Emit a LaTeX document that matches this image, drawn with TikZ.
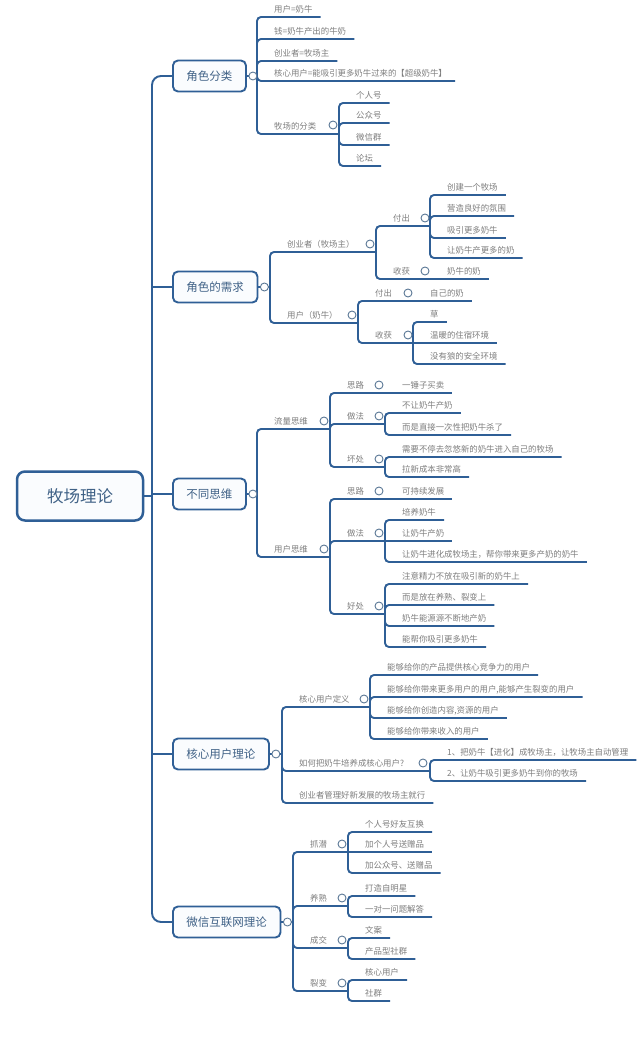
\documentclass[tikz,border=0pt]{standalone}
\usepackage{fontspec}
\newfontfamily\cjk{Noto Sans CJK SC}
\definecolor{lineblue}{HTML}{2F5F96}
\definecolor{leafgray}{HTML}{7E7E7E}
\definecolor{maintext}{HTML}{3F6186}
\definecolor{boxfill}{HTML}{FAFCFE}
\definecolor{togc}{HTML}{5B7896}
\begin{document}
\begin{tikzpicture}[x=1pt,y=-1pt,
  conn/.style={draw=lineblue,line width=1.9pt,rounded corners=4pt},
  leaf/.style={font=\cjk\fontsize{8.4pt}{10pt}\selectfont,text=leafgray,anchor=south west,inner xsep=8pt,inner ysep=4.5pt,text height=6.8pt,text depth=0pt},
  tog/.style={circle,draw=togc,fill=white,line width=0.9pt,minimum size=8pt,inner sep=0pt},
  mainbox/.style={draw=lineblue,line width=1.9pt,rounded corners=5pt,fill=boxfill,text=maintext,font=\cjk\fontsize{11.5pt}{14pt}\selectfont,minimum height=31pt,inner xsep=13.5pt,anchor=west},
  rootbox/.style={draw=lineblue,line width=2.5pt,rounded corners=8pt,fill=boxfill,text=maintext,font=\cjk\fontsize{16.5pt}{20pt}\selectfont,minimum width=126pt,minimum height=49pt}
]
\fill[white] (0,0) rectangle (640,1048);
\useasboundingbox (0,0) rectangle (640,1048);

% root and main branches
\node[rootbox] (root) at (80,496) {牧场理论};
\node[mainbox] (b1) at (172,76) {角色分类};
\node[mainbox] (b2) at (172,287) {角色的需求};
\node[mainbox] (b3) at (172,494) {不同思维};
\node[mainbox] (b4) at (172,754) {核心用户理论};
\node[mainbox] (b5) at (172,922) {微信互联网理论};
\coordinate (T) at (152,496);
\draw[conn,rounded corners=9pt] (b1.west) -| (T) |- (b5.west);
\draw[conn] (root.east) -- (T);
\draw[conn] (T |- b2.west) -- (b2.west);
\draw[conn] (T |- b3.west) -- (b3.west);
\draw[conn] (T |- b4.west) -- (b4.west);

\coordinate (J1) at (257,76);
\coordinate (J2) at (270,287);
\coordinate (J3) at (257,494);
\coordinate (J4) at (282,754);
\coordinate (J5) at (293,922);
\draw[conn] (b1.east) -- (J1);
\draw[conn] (b2.east) -- (J2);
\draw[conn] (b3.east) -- (J3);
\draw[conn] (b4.east) -- (J4);
\draw[conn] (b5.east) -- (J5);

% ---------- branch 1
\node[leaf] (r1) at (266,17) {用户=奶牛};
\node[leaf] (r2) at (266,39) {钱=奶牛产出的牛奶};
\node[leaf] (r3) at (266,61) {创业者=牧场主};
\node[leaf] (r4) at (266,81) {核心用户=能吸引更多奶牛过来的【超级奶牛】};
\node[leaf] (r5) at (266,134) {牧场的分类};
\coordinate (J15) at (339,134);
\node[leaf] (r51) at (348,103) {个人号};
\node[leaf] (r52) at (348,123) {公众号};
\node[leaf] (r53) at (348,145) {微信群};
\node[leaf] (r54) at (348,166) {论坛};
\draw[conn] (J1) |- (r1.south east);
\draw[conn] (J1) |- (r2.south east);
\draw[conn] (J1) |- (r3.south east);
\draw[conn] (J1) |- (r4.south east);
\draw[conn] (J1) |- (J15);
\draw[conn] (J15) |- (r51.south east);
\draw[conn] (J15) |- (r52.south east);
\draw[conn] (J15) |- (r53.south east);
\draw[conn] (J15) |- (r54.south east);

% ---------- branch 2
\node[leaf] (c1) at (279,252) {创业者（牧场主）};
\coordinate (J21) at (376,252);
\node[leaf] (c11) at (385,226) {付出};
\coordinate (J211) at (430,226);
\node[leaf] (c111) at (439,195) {创建一个牧场};
\node[leaf] (c112) at (439,216) {营造良好的氛围};
\node[leaf] (c113) at (439,238) {吸引更多奶牛};
\node[leaf] (c114) at (439,258) {让奶牛产更多的奶};
\node[leaf] (c12) at (385,279) {收获};
\coordinate (J212) at (430,279);
\node[leaf] (c121) at (439,279) {奶牛的奶};
\node[leaf] (c2) at (279,323) {用户（奶牛）};
\coordinate (J22) at (358,323);
\node[leaf] (c21) at (367,301) {付出};
\coordinate (J221) at (413,301);
\node[leaf] (c211) at (422,301) {自己的奶};
\node[leaf] (c22) at (367,343) {收获};
\coordinate (J222) at (413,343);
\node[leaf] (c221) at (422,322) {草};
\node[leaf] (c222) at (422,343) {温暖的住宿环境};
\node[leaf] (c223) at (422,364) {没有狼的安全环境};
\draw[conn] (J2) |- (J21);
\draw[conn] (J21) |- (J211);
\draw[conn] (J211) |- (c111.south east);
\draw[conn] (J211) |- (c112.south east);
\draw[conn] (J211) |- (c113.south east);
\draw[conn] (J211) |- (c114.south east);
\draw[conn] (J21) |- (J212);
\draw[conn] (J212) -- (c121.south east);
\draw[conn] (J2) |- (J22);
\draw[conn] (J22) |- (J221);
\draw[conn] (J221) -- (c211.south east);
\draw[conn] (J22) |- (J222);
\draw[conn] (J222) |- (c221.south east);
\draw[conn] (J222) -- (c222.south east);
\draw[conn] (J222) |- (c223.south east);

% ---------- branch 3
\node[leaf] (d1) at (266,429) {流量思维};
\coordinate (J31) at (330,429);
\node[leaf] (d11) at (339,393) {思路};
\coordinate (J311) at (385,393);
\node[leaf] (d111) at (394,393) {一锤子买卖};
\node[leaf] (d12) at (339,424) {做法};
\coordinate (J312) at (385,424);
\node[leaf] (d121) at (394,413) {不让奶牛产奶};
\node[leaf] (d122) at (394,435) {而是直接一次性把奶牛杀了};
\node[leaf] (d13) at (339,467) {坏处};
\coordinate (J313) at (385,467);
\node[leaf] (d131) at (394,457) {需要不停去忽悠新的奶牛进入自己的牧场};
\node[leaf] (d132) at (394,477) {拉新成本非常高};
\node[leaf] (d2) at (266,557) {用户思维};
\coordinate (J32) at (330,557);
\node[leaf] (d21) at (339,499) {思路};
\coordinate (J321) at (385,499);
\node[leaf] (d211) at (394,499) {可持续发展};
\node[leaf] (d22) at (339,541) {做法};
\coordinate (J322) at (385,541);
\node[leaf] (d221) at (394,520) {培养奶牛};
\node[leaf] (d222) at (394,541) {让奶牛产奶};
\node[leaf] (d223) at (394,562) {让奶牛进化成牧场主，帮你带来更多产奶的奶牛};
\node[leaf] (d23) at (339,614) {好处};
\coordinate (J323) at (385,614);
\node[leaf] (d231) at (394,584) {注意精力不放在吸引新的奶牛上};
\node[leaf] (d232) at (394,605) {而是放在养熟、裂变上};
\node[leaf] (d233) at (394,626) {奶牛能源源不断地产奶};
\node[leaf] (d234) at (394,647) {能帮你吸引更多奶牛};
\draw[conn] (J3) |- (J31);
\draw[conn] (J31) |- (J311);
\draw[conn] (J311) -- (d111.south east);
\draw[conn] (J31) |- (J312);
\draw[conn] (J312) |- (d121.south east);
\draw[conn] (J312) |- (d122.south east);
\draw[conn] (J31) |- (J313);
\draw[conn] (J313) |- (d131.south east);
\draw[conn] (J313) |- (d132.south east);
\draw[conn] (J3) |- (J32);
\draw[conn] (J32) |- (J321);
\draw[conn] (J321) -- (d211.south east);
\draw[conn] (J32) |- (J322);
\draw[conn] (J322) |- (d221.south east);
\draw[conn] (J322) -- (d222.south east);
\draw[conn] (J322) |- (d223.south east);
\draw[conn] (J32) |- (J323);
\draw[conn] (J323) |- (d231.south east);
\draw[conn] (J323) |- (d232.south east);
\draw[conn] (J323) |- (d233.south east);
\draw[conn] (J323) |- (d234.south east);

% ---------- branch 4
\node[leaf] (e1) at (291,707) {核心用户定义};
\coordinate (J41) at (370,707);
\node[leaf] (e11) at (379,675) {能够给你的产品提供核心竞争力的用户};
\node[leaf] (e12) at (379,697) {能够给你带来更多用户的用户,能够产生裂变的用户};
\node[leaf] (e13) at (379,718) {能够给你创造内容,资源的用户};
\node[leaf] (e14) at (379,739) {能够给你带来收入的用户};
\node[leaf] (e2) at (291,771) {如何把奶牛培养成核心用户?};
\coordinate (J42) at (430,771);
\node[leaf] (e21) at (439,760) {1、把奶牛【进化】成牧场主，让牧场主自动管理};
\node[leaf] (e22) at (439,781) {2、让奶牛吸引更多奶牛到你的牧场};
\node[leaf] (e3) at (291,803) {创业者管理好新发展的牧场主就行};
\draw[conn] (J4) |- (J41);
\draw[conn] (J41) |- (e11.south east);
\draw[conn] (J41) |- (e12.south east);
\draw[conn] (J41) |- (e13.south east);
\draw[conn] (J41) |- (e14.south east);
\draw[conn] (J4) |- (J42);
\draw[conn] (J42) |- (e21.south east);
\draw[conn] (J42) |- (e22.south east);
\draw[conn] (J4) |- (e3.south east);

% ---------- branch 5
\node[leaf] (f1) at (302,852) {抓潜};
\coordinate (J51) at (348,852);
\node[leaf] (f11) at (357,832) {个人号好友互换};
\node[leaf] (f12) at (357,852) {加个人号送赠品};
\node[leaf] (f13) at (357,873) {加公众号、送赠品};
\node[leaf] (f2) at (302,906) {养熟};
\coordinate (J52) at (348,906);
\node[leaf] (f21) at (357,896) {打造自明星};
\node[leaf] (f22) at (357,917) {一对一问题解答};
\node[leaf] (f3) at (302,948) {成交};
\coordinate (J53) at (348,948);
\node[leaf] (f31) at (357,938) {文案};
\node[leaf] (f32) at (357,959) {产品型社群};
\node[leaf] (f4) at (302,991) {裂变};
\coordinate (J54) at (348,991);
\node[leaf] (f41) at (357,980) {核心用户};
\node[leaf] (f42) at (357,1001) {社群};
\draw[conn] (J5) |- (J51);
\draw[conn] (J51) |- (f11.south east);
\draw[conn] (J51) -- (f12.south east);
\draw[conn] (J51) |- (f13.south east);
\draw[conn] (J5) |- (J52);
\draw[conn] (J52) |- (f21.south east);
\draw[conn] (J52) |- (f22.south east);
\draw[conn] (J5) |- (J53);
\draw[conn] (J53) |- (f31.south east);
\draw[conn] (J53) |- (f32.south east);
\draw[conn] (J5) |- (J54);
\draw[conn] (J54) |- (f41.south east);
\draw[conn] (J54) |- (f42.south east);

% ---------- collapse toggles
\node[tog] (t1) at ([xshift=6pt]b1.east) {};
\node[tog] (t2) at ([xshift=6pt]b2.east) {};
\node[tog] (t3) at ([xshift=6pt]b3.east) {};
\node[tog] (t4) at ([xshift=6pt]b4.east) {};
\node[tog] (t5) at ([xshift=6pt]b5.east) {};
\node[tog] (t15) at (333,125) {};
\node[tog] (t21) at (370,244) {};
\node[tog] (t211) at (425,218) {};
\node[tog] (t212) at (425,271) {};
\node[tog] (t22) at (352,315) {};
\node[tog] (t221) at (408,293) {};
\node[tog] (t222) at (408,335) {};
\node[tog] (t31) at (324,421) {};
\node[tog] (t311) at (379,385) {};
\node[tog] (t312) at (379,416) {};
\node[tog] (t313) at (379,459) {};
\node[tog] (t32) at (324,549) {};
\node[tog] (t321) at (379,491) {};
\node[tog] (t322) at (379,533) {};
\node[tog] (t323) at (379,606) {};
\node[tog] (t41) at (364,699) {};
\node[tog] (t42) at (423,763) {};
\node[tog] (t51) at (342,844) {};
\node[tog] (t52) at (342,898) {};
\node[tog] (t53) at (342,940) {};
\node[tog] (t54) at (342,983) {};
\end{tikzpicture}
\end{document}
